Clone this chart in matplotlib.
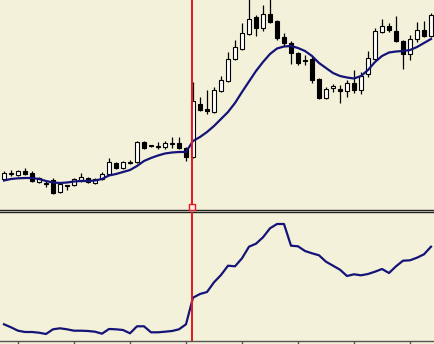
import numpy as np
import matplotlib
matplotlib.use('Agg')
import matplotlib.pyplot as plt

# price candles (arbitrary price units)
opens = [31, 36.5, 35, 39, 37, 28, 27.5, 30, 18, 24.5, 25, 30, 32, 27, 31, 36, 47, 42, 47.5, 48,
         68, 65, 63.5, 63, 66, 67, 62, 53, 106, 101, 98, 119, 129, 151, 161, 176, 193, 182, 196, 189,
         173, 167, 157, 149.5, 151, 131, 112, 122, 121, 119, 127, 120, 136, 151, 178, 184, 179, 169,
         156, 171, 180, 174]
highs = [39, 40, 40, 42, 39, 33, 30, 32, 27, 25, 32, 37, 33, 32, 38, 52, 48, 49, 50, 69,
         69, 65.5, 68, 69, 73, 73, 63, 128, 113, 120, 123, 134, 158, 170, 187, 215, 195, 205, 215, 190,
         177, 169, 158, 155, 153, 132, 123, 126, 125, 130, 140, 138, 159, 182, 191, 187, 194, 170,
         175, 188, 189, 197]
lows = [30, 34, 34, 35, 28, 27, 23, 16, 17, 20, 24, 28, 27, 26, 30, 35, 41, 41, 46, 47,
        61.5, 63.5, 61, 61, 62, 61, 49, 52, 99, 96, 97, 118, 128, 150, 160.5, 175, 174, 179, 187, 170,
        164, 146, 145, 145, 127, 111, 111, 118, 107, 113, 117, 116, 133, 150, 177, 178, 168.5, 141,
        150, 168, 173, 173]
closes = [37, 37.5, 39, 36, 29, 32, 26.5, 17, 26, 25, 31, 33, 28, 31, 36, 48, 42, 48, 48.5, 68,
          62, 64, 64.5, 67, 67, 62, 53, 109, 100, 99, 120, 130, 151, 163, 177, 191, 182, 196, 188, 172,
          167, 157, 147, 149, 130, 112, 121, 124, 119, 127, 120, 134, 152, 179, 184, 180, 169, 156,
          171, 180, 174, 195]

# moving average over the candles
ma = [29.5, 31, 31.7, 32, 32, 31, 29, 27.5, 27, 27.5, 28.5, 29, 29, 29.5, 31, 34.5, 36, 38, 40, 44,
      49, 52, 54.5, 56.5, 57.5, 58, 58, 69, 73, 78, 84, 91, 98, 107, 118, 128.5, 139, 148, 156, 161.5,
      163.5, 164, 162, 159, 154, 147, 142, 137, 134, 132.5, 131.5, 134, 140, 148, 154, 157.5, 158.5,
      159, 160, 163, 167, 171]

# indicator in the lower pane
indicator = [16.7, 13.7, 10.3, 9, 9, 8.3, 7, 11.7, 12.7, 11.7, 10.3, 10.3, 10, 9.3, 7.3, 12, 11.7,
             11, 7.7, 14.7, 14.7, 8.7, 8.7, 9.3, 10, 11.7, 16.7, 43.3, 47, 49, 58.7, 66, 75.3, 74.7,
             82.7, 94.3, 97.3, 103.7, 112.7, 117, 117, 95.3, 94.7, 90, 87.7, 85.7, 79.3, 75.3, 71.3,
             65, 66.7, 65.7, 67, 69.3, 72, 68, 74.7, 80.3, 80.7, 83.3, 86.7, 94.3]

tick_bars = [2, 10, 18, 26, 34, 42, 50, 58]
marker_bar = 26.86

bg = '#f4f1da'
navy = '#141478'
red = '#e8161c'

W, H = 434, 344
fig = plt.figure(figsize=(W / 100, H / 100), dpi=100, facecolor=bg)
ax1 = fig.add_axes([0, 1 - 209.5 / H, 1, 209.5 / H], facecolor=bg)
ax2 = fig.add_axes([0, 1 - 341 / H, 1, (341 - 211.5) / H], facecolor=bg)

x = np.arange(len(opens))
o = np.array(opens)
c = np.array(closes)
up = c >= o

ax1.vlines(x, lows, highs, color='black', lw=0.9, zorder=2)
bottoms = np.minimum(o, c)
heights = np.maximum(np.abs(c - o), 0.8)
ax1.bar(x[up], heights[up], bottom=bottoms[up], width=0.66, color='white',
        edgecolor='black', lw=0.8, zorder=3)
ax1.bar(x[~up], heights[~up], bottom=bottoms[~up], width=0.66, color='black',
        edgecolor='black', lw=0.8, zorder=3)
ax1.plot(x, ma, color=navy, lw=1.6, zorder=4)

ax2.plot(x, indicator, color=navy, lw=1.6)

xlim = (-4 / 7, 430 / 7)
ax1.set_xlim(xlim)
ax2.set_xlim(xlim)
ax1.set_ylim(0.5, 210)
ax2.set_ylim(0, 129.5)

for ax in (ax1, ax2):
    ax.axvline(marker_bar, color=red, lw=1.4, zorder=5)
    ax.spines['left'].set_visible(False)
    ax.spines['right'].set_visible(False)
    for s in ('top', 'bottom'):
        ax.spines[s].set_color('#222222')
        ax.spines[s].set_linewidth(1.0)
ax1.spines['top'].set_visible(False)
ax1.set_xticks([])
ax1.set_yticks([])
ax2.set_yticks([])
ax2.set_xticks(tick_bars)
ax2.set_xticklabels([])
ax2.tick_params(axis='x', direction='out', length=2.5, width=1, color='#555555')
ax2.spines['bottom'].set_color('#555555')

ax1.plot([marker_bar], [3], marker='s', ms=4, mfc='#fff0f0', mec=red, mew=1,
         clip_on=False, zorder=6)

fig.savefig('out.png', dpi=100, facecolor=bg)
